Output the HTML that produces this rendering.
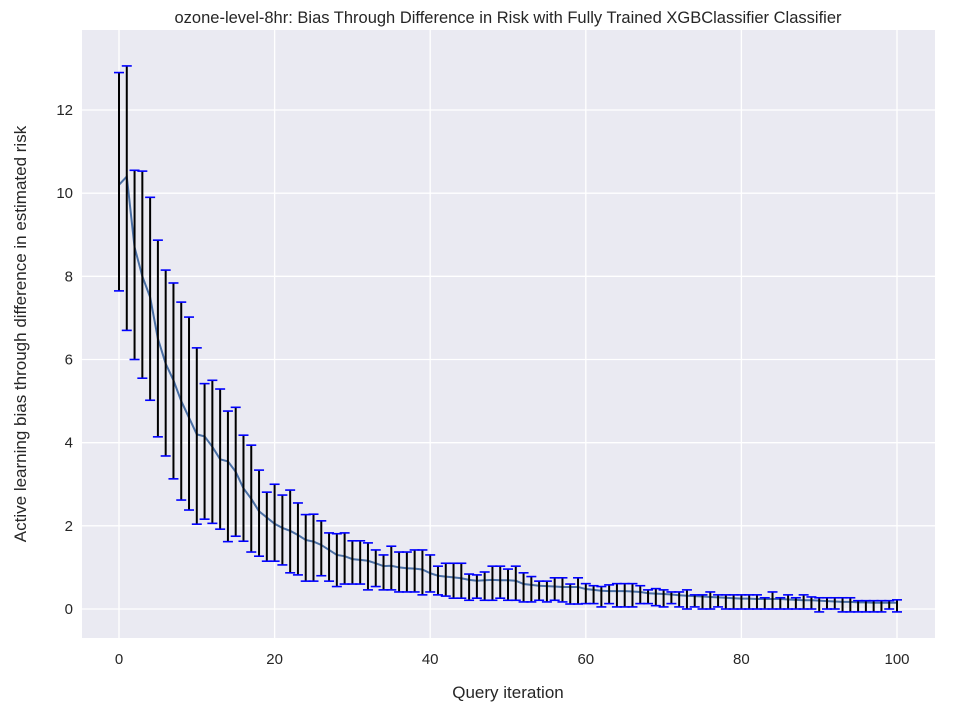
<!DOCTYPE html>
<html><head><meta charset="utf-8"><style>
body{margin:0;background:#fff;font-family:"Liberation Sans","DejaVu Sans",sans-serif;}
svg text{font-family:"Liberation Sans","DejaVu Sans",sans-serif;fill:#262626;}
</style></head><body>
<svg id="chart" width="960" height="716" xmlns="http://www.w3.org/2000/svg"></svg>
<script>
const meanVals=[10.2,10.4,8.7,8.0,7.5,6.5,5.9,5.5,5.0,4.6,4.2,4.15,3.9,3.6,3.55,3.3,2.9,2.65,2.35,2.2,2.05,1.95,1.88,1.78,1.66,1.62,1.54,1.42,1.3,1.27,1.2,1.18,1.16,1.1,1.03,1.04,1.0,0.98,0.97,0.95,0.86,0.8,0.78,0.76,0.74,0.7,0.68,0.69,0.7,0.69,0.69,0.68,0.6,0.58,0.56,0.55,0.54,0.53,0.53,0.53,0.48,0.46,0.44,0.43,0.43,0.43,0.42,0.41,0.38,0.37,0.36,0.35,0.33,0.32,0.31,0.3,0.29,0.28,0.27,0.26,0.25,0.25,0.24,0.24,0.24,0.24,0.23,0.22,0.21,0.21,0.2,0.19,0.18,0.17,0.17,0.16,0.16,0.15,0.15,0.15,0.15];
const upperVals=[12.9,13.06,10.55,10.53,9.9,8.87,8.15,7.84,7.38,7.02,6.28,5.42,5.5,5.29,4.76,4.85,4.18,3.94,3.34,2.81,3.0,2.74,2.86,2.55,2.27,2.28,2.12,1.83,1.81,1.83,1.64,1.64,1.59,1.42,1.3,1.51,1.37,1.37,1.42,1.42,1.3,1.03,1.1,1.1,1.1,0.84,0.82,0.89,1.03,1.03,0.96,1.03,0.87,0.78,0.67,0.67,0.75,0.75,0.6,0.75,0.61,0.56,0.54,0.58,0.61,0.61,0.61,0.56,0.46,0.49,0.46,0.41,0.41,0.46,0.34,0.34,0.41,0.34,0.34,0.34,0.34,0.34,0.34,0.27,0.41,0.27,0.34,0.27,0.34,0.29,0.27,0.27,0.27,0.27,0.27,0.2,0.2,0.2,0.2,0.2,0.22];
const lowerVals=[7.65,6.7,6.0,5.55,5.02,4.14,3.68,3.13,2.62,2.38,2.04,2.16,2.06,1.92,1.62,1.75,1.63,1.37,1.27,1.15,1.15,1.06,0.87,0.82,0.67,0.67,0.8,0.67,0.54,0.6,0.6,0.6,0.46,0.54,0.46,0.46,0.41,0.41,0.41,0.34,0.41,0.34,0.31,0.26,0.26,0.21,0.26,0.21,0.21,0.26,0.21,0.21,0.17,0.17,0.21,0.17,0.21,0.17,0.12,0.12,0.13,0.13,0.05,0.13,0.05,0.05,0.05,0.13,0.13,0.08,0.05,0.13,0.05,0.0,0.05,0.0,0.0,0.05,0.0,0.0,0.0,0.0,0.0,0.0,0.0,0.0,0.0,0.0,0.0,0.0,-0.07,0.0,0.0,-0.07,-0.07,-0.07,-0.07,-0.07,-0.07,0.0,-0.07];
const xTicks=[0,20,40,60,80,100];
const yTicks=[0,2,4,6,8,10,12];

const NS="http://www.w3.org/2000/svg";
const svg=document.getElementById('chart');
const L=82,R=935,T=30,B=638;
const xs=v=>119+(v/100)*(897-119);
const ys=v=>609-v*((609-110)/12);
function mk(tag,attrs,parent){const e=document.createElementNS(NS,tag);for(const k in attrs)e.setAttribute(k,attrs[k]);(parent||svg).appendChild(e);return e;}

const bg=mk('rect',{x:L,y:T,width:R-L,height:B-T,fill:'#eaeaf2'});



xTicks.forEach(t=>{
  const g=mk('line',{x1:xs(t),x2:xs(t),y1:T,y2:B,stroke:'#fff','stroke-width':1.3});
  
  
  const tx=mk('text',{x:xs(t),y:B+26,'text-anchor':'middle','font-size':15});
  tx.textContent=t;
  
  
});
yTicks.forEach(t=>{
  const g=mk('line',{x1:L,x2:R,y1:ys(t),y2:ys(t),stroke:'#fff','stroke-width':1.3});
  
  
  const tx=mk('text',{x:L-9,y:ys(t)+5,'text-anchor':'end','font-size':15});
  tx.textContent=t;
  
  
});

let d='';
meanVals.forEach((v,i)=>{d+=(i?'L':'M')+xs(i).toFixed(2)+' '+ys(v).toFixed(2);});
const ln=mk('path',{d:d,fill:'none',stroke:'#4a6fa5','stroke-width':2});



upperVals.forEach((u,i)=>{
  const lo=lowerVals[i],x=xs(i);
  const g=mk('g',{});
  
  
  mk('line',{x1:x,x2:x,y1:ys(u),y2:ys(lo),stroke:'#000','stroke-width':2},g);
  mk('line',{x1:x-5,x2:x+5,y1:ys(u),y2:ys(u),stroke:'#0000ff','stroke-width':1.6},g);
  mk('line',{x1:x-5,x2:x+5,y1:ys(lo),y2:ys(lo),stroke:'#0000ff','stroke-width':1.6},g);
});

const title=mk('text',{x:508,y:23,'text-anchor':'middle','font-size':16.5});
title.textContent='ozone-level-8hr: Bias Through Difference in Risk with Fully Trained XGBClassifier Classifier';


const xl=mk('text',{x:508,y:698,'text-anchor':'middle','font-size':17});
xl.textContent='Query iteration';


const yl=mk('text',{x:0,y:0,'text-anchor':'middle','font-size':17,transform:'translate(26,334) rotate(-90)'});
yl.textContent='Active learning bias through difference in estimated risk';


</script>
</body></html>
